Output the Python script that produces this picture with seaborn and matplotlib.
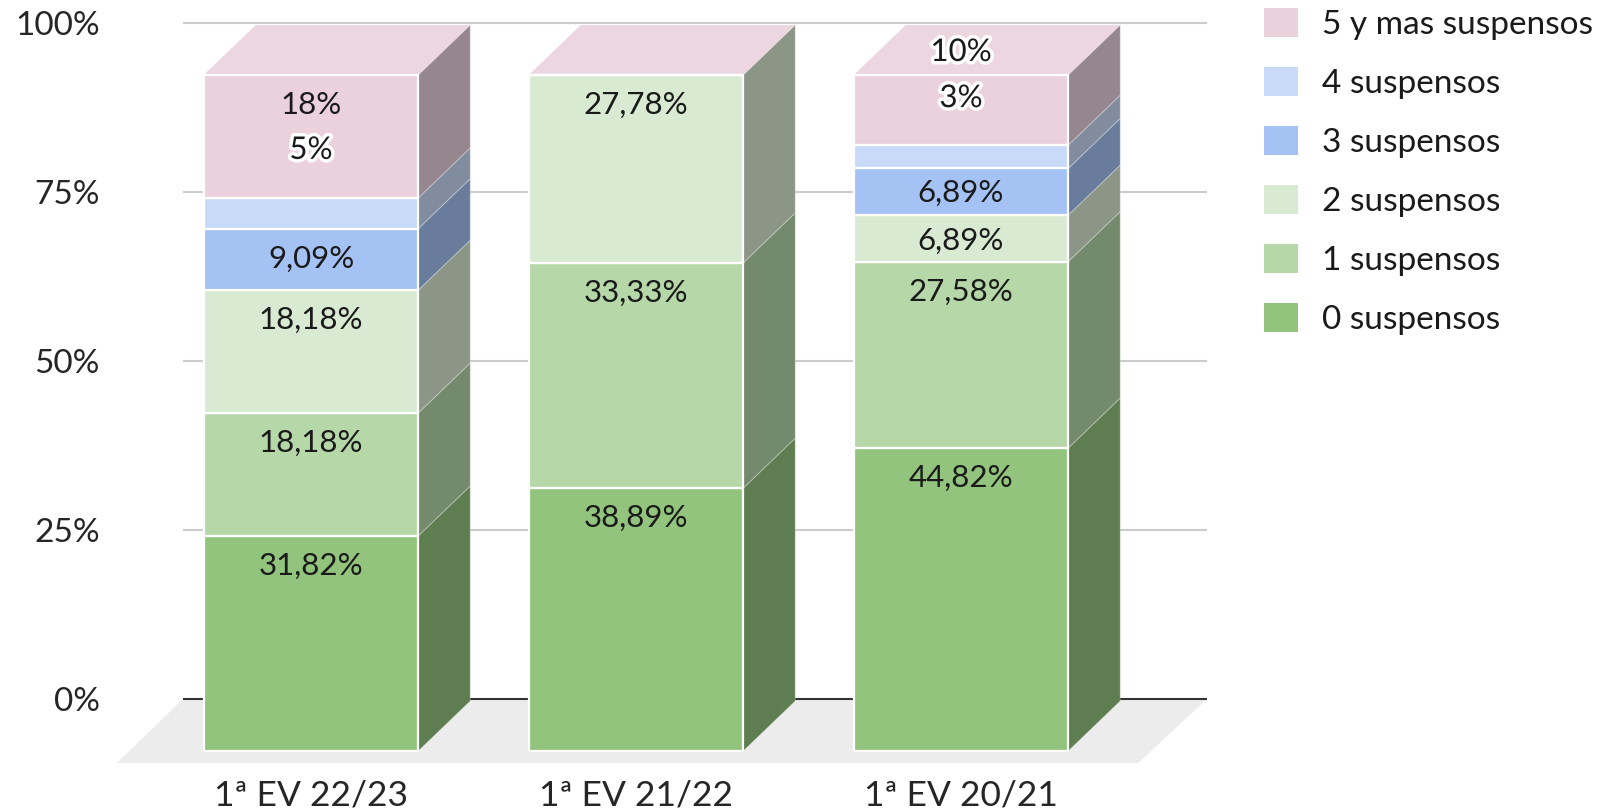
import numpy as np
import pandas as pd
import seaborn as sns
import matplotlib.pyplot as plt
import matplotlib.patheffects as pe
from matplotlib.colors import to_rgb
from matplotlib.patches import Patch, Polygon

evaluaciones = ["1ª EV 22/23", "1ª EV 21/22", "1ª EV 20/21"]
series_names = ["0 suspensos", "1 suspensos", "2 suspensos", "3 suspensos", "4 suspensos", "5 y mas suspensos"]
s0 = [31.82, 38.89, 44.82]
s1 = [18.18, 33.33, 27.58]
s2 = [18.18, 27.78, 6.89]
s3 = [9.09, 0, 6.89]
s4 = [4.55, 0, 3.45]
s5 = [18.18, 0, 10.37]
labels0 = ["31,82%", "38,89%", "44,82%"]
labels1 = ["18,18%", "33,33%", "27,58%"]
labels2 = ["18,18%", "27,78%", "6,89%"]
labels3 = ["9,09%", "", "6,89%"]
labels4 = ["5%", "", "3%"]
labels5 = ["18%", "", "10%"]
y_ticks = [0, 25, 50, 75, 100]
colors = ["#93c47d", "#b6d7a8", "#d9ead3", "#a4c2f4", "#c9daf8", "#ead1dc"]

W, H = 1619, 809
PX_X = 325.0   # pixels per category
PX_Y = 6.76    # pixels per percent
X0, Y0 = 311, 751  # pixel of first bar centre / of 0%
DX = 52 / PX_X
DY = 50 / PX_Y
GRID_OFF = 52 / PX_Y

sns.set_theme(style="white")
plt.rcParams["font.family"] = ["Lato", "DejaVu Sans"]
plt.rcParams["text.color"] = "#1a1a1a"

df = pd.DataFrame({"evaluacion": evaluaciones, "s0": s0, "s1": s1, "s2": s2, "s3": s3, "s4": s4, "s5": s5})
cols = ["s0", "s1", "s2", "s3", "s4", "s5"]
all_labels = [labels0, labels1, labels2, labels3, labels4, labels5]

fig = plt.figure(figsize=(W / 100, H / 100), dpi=100)
left, right, bottom = 183, 1207, 763
ax = fig.add_axes([left / W, 1 - bottom / H, (right - left) / W, bottom / H])
ax.set_facecolor("none")

cum = np.zeros(3)
for i, c in enumerate(cols):
    sns.barplot(data=df, x="evaluacion", y=c, bottom=cum.copy(), color=colors[i], saturation=1,
                width=0.66, edgecolor="white", linewidth=1.6, ax=ax, zorder=3)
    # side face of each segment, taken from the bar that seaborn drew
    side = tuple(np.array(to_rgb(colors[i])) * 0.64)
    for rect in ax.containers[-1]:
        x1 = rect.get_x() + rect.get_width()
        y1, y2 = rect.get_y(), rect.get_y() + rect.get_height()
        if y2 > y1:
            ax.add_patch(Polygon([(x1, y1), (x1 + DX, y1 + DY), (x1 + DX, y2 + DY), (x1, y2)],
                                 facecolor=side, edgecolor=(1, 1, 1, 0.25), linewidth=0.8, zorder=2.5))
    cum += df[c].values

# top faces, always in the colour of the last series
top = "#ecd6e0"
for rect in ax.containers[0]:
    x0, x1 = rect.get_x(), rect.get_x() + rect.get_width()
    ax.add_patch(Polygon([(x0, 100), (x1, 100), (x1 + DX, 100 + DY), (x0 + DX, 100 + DY)],
                         facecolor=top, edgecolor="none", zorder=2.5))

# floor
fl_front = (Y0 - bottom) / PX_Y
ax.add_patch(Polygon([(-0.597, fl_front), (-0.394, GRID_OFF), (2.757, GRID_OFF), (2.545, fl_front)],
                     facecolor="#ececec", edgecolor="none", zorder=0, clip_on=False))

# back wall lines
for v in y_ticks:
    ax.axhline(v + GRID_OFF, color="#333333" if v == 0 else "#cccccc", lw=1.5, zorder=1)

# value labels sit under the top of their segment, except the ones moved to avoid overlap
nudge = {(4, 0): 78 / PX_Y, (4, 2): 77 / PX_Y, (5, 2): 53 / PX_Y, (3, 2): 6 / PX_Y, (2, 2): 4 / PX_Y}
halo = [(4, 0), (4, 2), (5, 2)]
cum = np.zeros(3)
for i, c in enumerate(cols):
    cum += df[c].values
    for j in range(3):
        txt = all_labels[i][j]
        if not txt:
            continue
        y = cum[j] - 30 / PX_Y + nudge.get((i, j), 0)
        t = ax.text(j, y, txt, ha="center", va="center", fontsize=22.5, zorder=5)
        if (i, j) in halo:
            t.set_path_effects([pe.withStroke(linewidth=5, foreground="white")])

ax.set_xlim((left - X0) / PX_X, (right - X0) / PX_X)
ax.set_ylim(fl_front, Y0 / PX_Y)
ax.set_yticks([v + GRID_OFF for v in y_ticks])
ax.set_yticklabels([f"{v}%" for v in y_ticks], fontsize=24)
ax.tick_params(axis="y", length=0, pad=60)
ax.tick_params(axis="x", length=0, pad=12, labelsize=25.5)
ax.set_xlabel("")
ax.set_ylabel("")
sns.despine(ax=ax, left=True, bottom=True, top=True, right=True)

handles = [Patch(facecolor=colors[i], edgecolor="none", label=series_names[i]) for i in range(5, -1, -1)]
fig.legend(handles=handles, loc="upper left", bbox_to_anchor=(1264 / W, 1 - 8 / H), bbox_transform=fig.transFigure,
           frameon=False, fontsize=24, handlelength=1.03, handleheight=0.98, handletextpad=0.72,
           labelspacing=0.805, borderaxespad=0, borderpad=0)

fig.savefig("out.png", dpi=100)
